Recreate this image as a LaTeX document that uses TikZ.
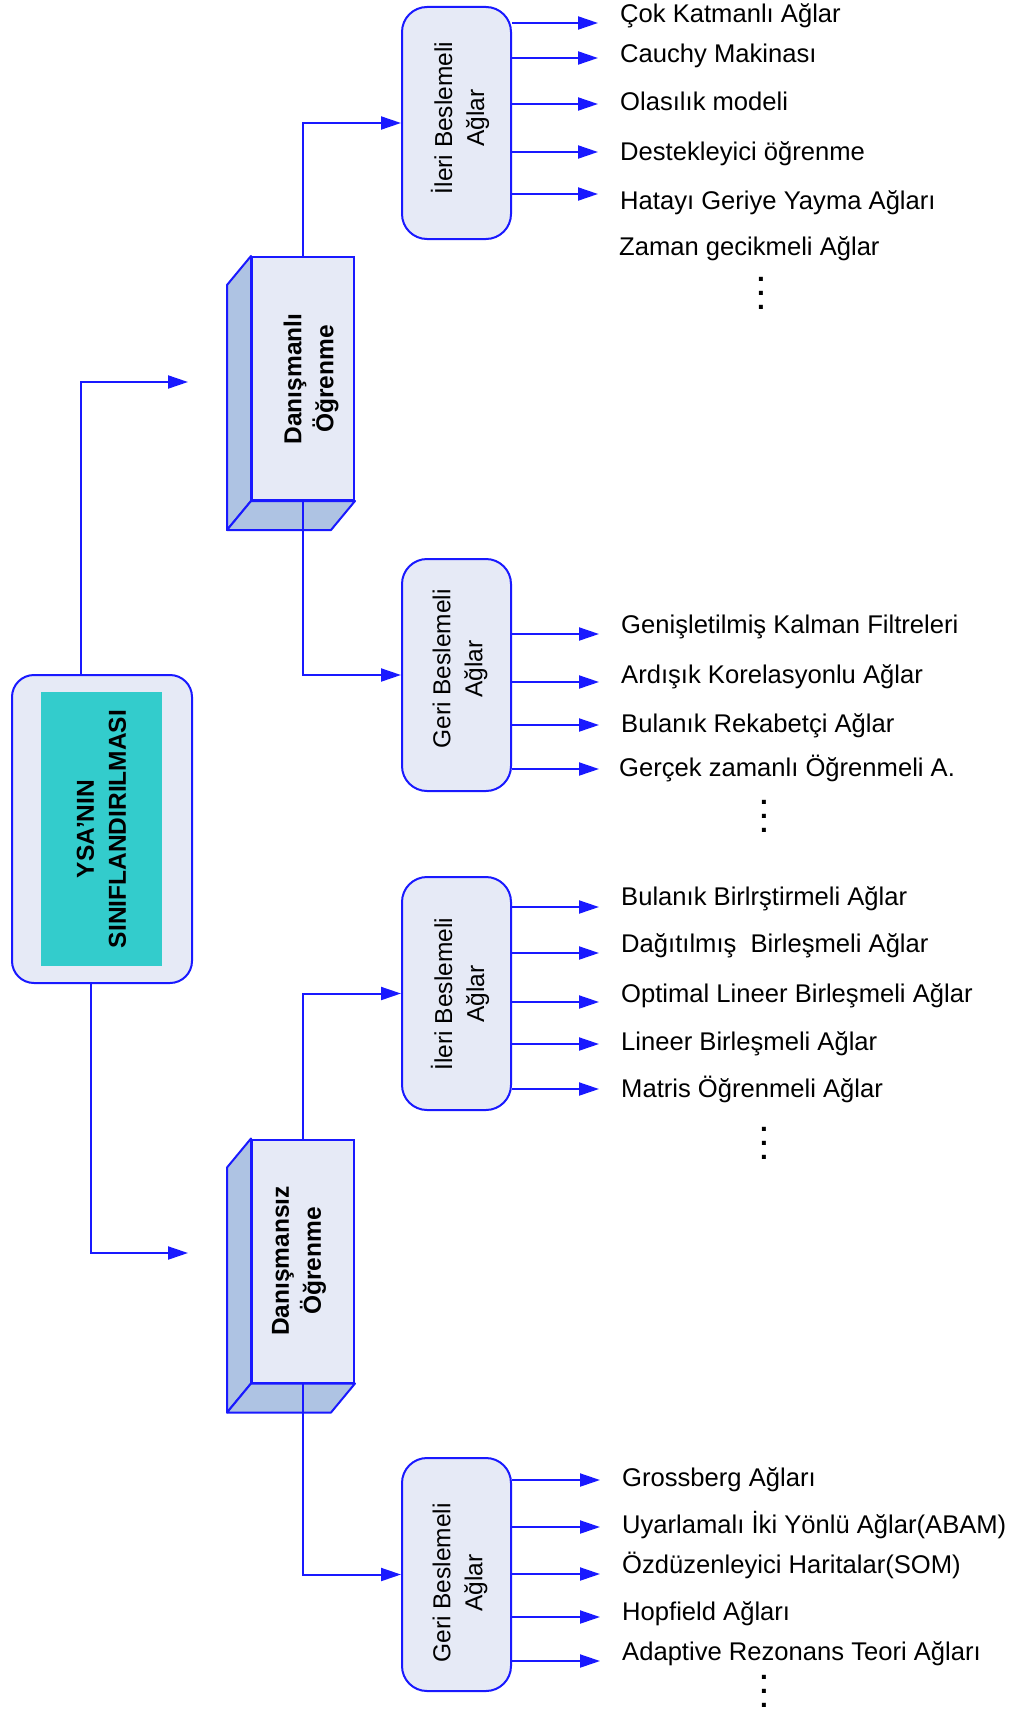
\documentclass[tikz,border=0pt]{standalone}
\usepackage{fontspec}
\setmainfont{Liberation Sans}
\usepackage{xcolor}
\usepackage{tikz}
\definecolor{ysablue}{RGB}{25,25,255}
\definecolor{ysafill}{RGB}{230,234,246}
\definecolor{ysaside}{RGB}{174,195,227}
\definecolor{ysateal}{RGB}{51,204,204}
\tikzstyle{rootbox} = [rectangle, draw=ysablue, fill=ysafill, line width=2pt,
    rounded corners=22pt, minimum width=180pt, minimum height=308pt]
\tikzstyle{tealbox} = [rectangle, fill=ysateal, rotate=90, align=center,
    minimum width=274pt, minimum height=121pt, font=\bfseries\fontsize{24.5}{32}\selectfont]
\tikzstyle{front} = [rectangle, draw=ysablue, fill=ysafill, line width=2pt,
    minimum width=102pt, minimum height=243pt]
\tikzstyle{side} = [draw=ysablue, fill=ysaside, line width=2pt, line join=round]
\tikzstyle{netbox} = [rectangle, draw=ysablue, fill=ysafill, line width=2pt,
    rounded corners=25pt, minimum width=109pt, minimum height=232pt]
\tikzstyle{boldtext} = [rotate=90, align=center, font=\bfseries\fontsize{24.5}{32}\selectfont]
\tikzstyle{nettext} = [rotate=90, align=center, font=\fontsize{24.5}{32}\selectfont]
\tikzstyle{item} = [anchor=base west, inner sep=0pt, font=\fontsize{25.6}{30}\selectfont]
\tikzstyle{dots} = [align=center, inner sep=0pt, font=\bfseries\fontsize{28}{14}\selectfont]
\tikzstyle{link} = [draw=ysablue, line width=2pt]
\tikzstyle{arr} = [link, -{Triangle[length=20pt,width=13pt]}]
\tikzstyle{itemarr} = [arr, shorten >=22pt]
\usetikzlibrary{arrows.meta}

\begin{document}
\begin{tikzpicture}[x=1pt,y=-1pt]
    \useasboundingbox (0,0) rectangle (1012,1710);

    \node[rootbox] (root) at (102,829) {};
    \node[tealbox] (ysa) at (101.5,829) {YSA’NIN\\SINIFLANDIRILMASI};

    % the two learning blocks
    \node[front] (danismanli) at (303,378.5) {};
    \node[front] (danismansiz) at (303,1261) {};
    \foreach \b in {danismanli,danismansiz} {
        \draw[side] (\b.north west) -- ++(-24,29) -- ([shift={(-24,29)}]\b.south west) -- (\b.south west) -- cycle;
        \draw[side] (\b.south west) -- ++(-24,29) -- ([shift={(-24,29)}]\b.south east) -- (\b.south east) -- cycle;
    }
    \node[boldtext] (danismanlitxt) at (311,379) {Danışmanlı\\Öğrenme};
    \node[boldtext] (danismansiztxt) at (299,1261) {Danışmansız\\Öğrenme};

    \node[netbox] (ileriA) at (456.5,123) {};
    \node[netbox] (geriA) at (456.5,675) {};
    \node[netbox, minimum height=233pt] (ileriB) at (456.5,993.5) {};
    \node[netbox, minimum height=233pt] (geriB) at (456.5,1574.5) {};
    \node[nettext] (ileriAtxt) at (460,118) {İleri Beslemeli\\Ağlar};
    \node[nettext] (geriAtxt) at (460,669) {Geri Beslemeli\\Ağlar};
    \node[nettext] (ileriBtxt) at (460,994) {İleri Beslemeli\\Ağlar};
    \node[nettext] (geriBtxt) at (460,1583) {Geri Beslemeli\\Ağlar};

    \draw[arr] ([xshift=-21pt]root.north) |- ([xshift=-63pt,yshift=-3.5pt]danismanli.west);
    \draw[arr] ([xshift=-11pt]root.south) |- ([xshift=-63pt,yshift=8pt]danismansiz.west);
    \draw[arr] (danismanli.north) |- (ileriA.west);
    \draw[arr] (danismanli.south) |- (geriA.west);
    \draw[arr] (danismansiz.north) |- (ileriB.west);
    \draw[arr] (danismansiz.south) |- (geriB.west);

    % danismanli, ileri beslemeli
    \node[item] (cok) at (620,23) {Çok Katmanlı Ağlar};
    \node[item] (cauchy) at (620,63) {Cauchy Makinası};
    \node[item] (olasilik) at (620,110) {Olasılık modeli};
    \node[item] (destek) at (620,160) {Destekleyici öğrenme};
    \node[item] (hatayi) at (620,209) {Hatayı Geriye Yayma Ağları};
    \node[item] (zaman) at (619,255) {Zaman gecikmeli Ağlar};
    \node[dots] (dotsA) at (761,293) {.\\.\\.};
    \draw[itemarr] (ileriA.east |- 0,23) -- (cok.west |- 0,23);
    \draw[itemarr] (ileriA.east |- 0,58) -- (cauchy.west |- 0,58);
    \draw[itemarr] (ileriA.east |- 0,104) -- (olasilik.west |- 0,104);
    \draw[itemarr] (ileriA.east |- 0,152) -- (destek.west |- 0,152);
    \draw[itemarr] (ileriA.east |- 0,194) -- (hatayi.west |- 0,194);

    % danismanli, geri beslemeli
    \node[item] (kalman) at (621,633) {Genişletilmiş Kalman Filtreleri};
    \node[item] (ardisik) at (621,683) {Ardışık Korelasyonlu Ağlar};
    \node[item] (rekabet) at (621,732) {Bulanık Rekabetçi Ağlar};
    \node[item] (gercek) at (619,776) {Gerçek zamanlı Öğrenmeli A.};
    \node[dots] (dotsB) at (764,816) {.\\.\\.};
    \draw[itemarr] (geriA.east |- 0,634) -- (kalman.west |- 0,634);
    \draw[itemarr] (geriA.east |- 0,682) -- (ardisik.west |- 0,682);
    \draw[itemarr] (geriA.east |- 0,725) -- (rekabet.west |- 0,725);
    \draw[itemarr] (geriA.east |- 0,769) -- ([xshift=2pt]gercek.west |- 0,769);

    % danismansiz, ileri beslemeli
    \node[item] (bulanik) at (621,905) {Bulanık Birlrştirmeli Ağlar};
    \node[item] (dagitik) at (621,952) {Dağıtılmış~ Birleşmeli Ağlar};
    \node[item] (optimal) at (621,1002) {Optimal Lineer Birleşmeli Ağlar};
    \node[item] (lineer) at (621,1050) {Lineer Birleşmeli Ağlar};
    \node[item] (matris) at (621,1097) {Matris Öğrenmeli Ağlar};
    \node[dots] (dotsC) at (764,1143) {.\\.\\.};
    \draw[itemarr] (ileriB.east |- 0,907) -- (bulanik.west |- 0,907);
    \draw[itemarr] (ileriB.east |- 0,953) -- (dagitik.west |- 0,953);
    \draw[itemarr] (ileriB.east |- 0,1002) -- (optimal.west |- 0,1002);
    \draw[itemarr] (ileriB.east |- 0,1044) -- (lineer.west |- 0,1044);
    \draw[itemarr] (ileriB.east |- 0,1089) -- (matris.west |- 0,1089);

    % danismansiz, geri beslemeli
    \node[item] (grossberg) at (622,1486) {Grossberg Ağları};
    \node[item] (abam) at (622,1533) {Uyarlamalı İki Yönlü Ağlar(ABAM)};
    \node[item] (som) at (622,1573) {Özdüzenleyici Haritalar(SOM)};
    \node[item] (hopfield) at (622,1620) {Hopfield Ağları};
    \node[item] (art) at (622,1660) {Adaptive Rezonans Teori Ağları};
    \node[dots] (dotsD) at (764,1691) {.\\.\\.};
    \draw[itemarr] (geriB.east |- 0,1480) -- (grossberg.west |- 0,1480);
    \draw[itemarr] (geriB.east |- 0,1527) -- (abam.west |- 0,1527);
    \draw[itemarr] (geriB.east |- 0,1574) -- (som.west |- 0,1574);
    \draw[itemarr] (geriB.east |- 0,1617) -- (hopfield.west |- 0,1617);
    \draw[itemarr] (geriB.east |- 0,1661) -- (art.west |- 0,1661);
\end{tikzpicture}
\end{document}
